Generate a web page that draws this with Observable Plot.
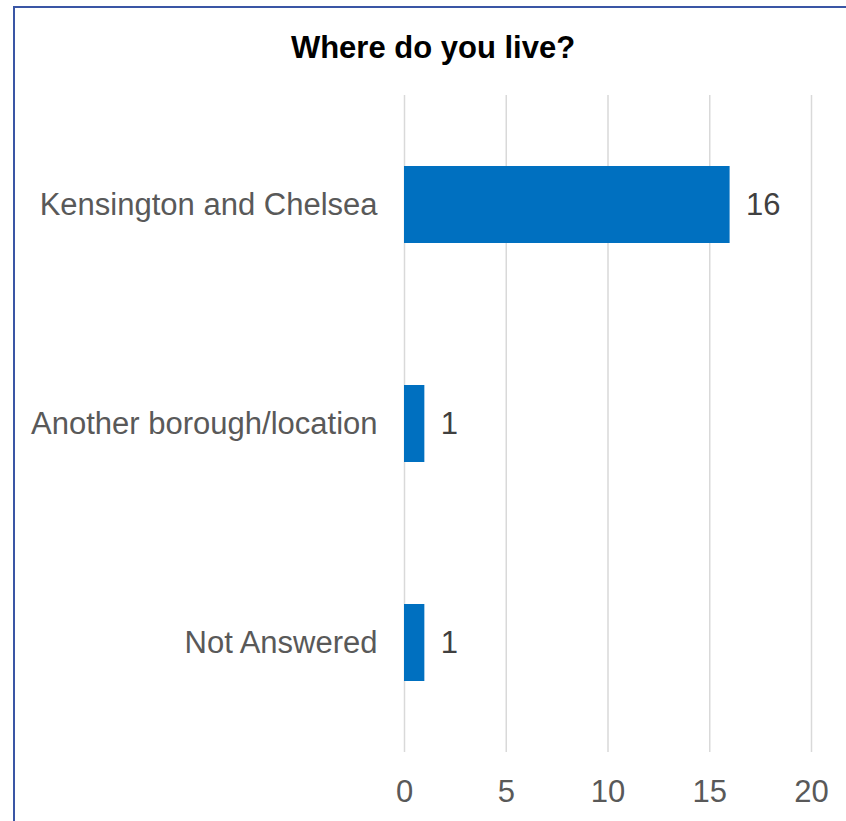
<!DOCTYPE html>
<html>
<head>
<meta charset="utf-8">
<script src="https://cdn.jsdelivr.net/npm/d3@7"></script>
<script src="https://cdn.jsdelivr.net/npm/@observablehq/plot@0.6"></script>
<style>
  html, body { margin: 0; padding: 0; background: #fff; }
  #frame { position: relative; width: 846px; height: 821px; overflow: hidden; font-family: Arial, "Liberation Sans", sans-serif; }
  #border { position: absolute; left: 13px; top: 6px; width: 900px; height: 900px; border-top: 2px solid #3A56A5; border-left: 2px solid #3A56A5; }
  #title { position: absolute; left: 0; top: 0; width: 866px; height: 95px; line-height: 95px; text-align: center; font-weight: bold; font-size: 31px; color: #000; }
  #chart { position: absolute; left: 0; top: 95px; }
</style>
</head>
<body>
<div id="frame">
  <div id="border"></div>
  <div id="title">Where do you live?</div>
  <div id="chart"></div>
</div>
<script>
const categories = ["Kensington and Chelsea", "Another borough/location", "Not Answered"];
const counts = [16, 1, 1];
const xTicks = [0, 5, 10, 15, 20];

const data = categories.map((c, i) => ({category: c, count: counts[i]}));

const chart = Plot.plot({
  width: 846,
  height: 726,
  marginLeft: 404,
  marginRight: 35,
  marginTop: 0,
  marginBottom: 69,
  style: {fontFamily: "Arial, 'Liberation Sans', sans-serif", fontSize: "31px", color: "#595959", background: "transparent"},
  x: {domain: [0, 20], ticks: xTicks, label: null},
  y: {domain: categories, paddingInner: 0.65, paddingOuter: 0.325, label: null},
  marks: [
    Plot.gridX(xTicks, {stroke: "#D9D9D9", strokeOpacity: 1, strokeWidth: 1.5}),
    Plot.barX(data, {x: "count", y: "category", fill: "#0070C0"}),
    Plot.text(data, {x: "count", y: "category", text: d => String(d.count), textAnchor: "start", dx: 16, fill: "#404040", fontSize: 31}),
    Plot.axisX(xTicks, {tickSize: 0, tickPadding: 27, fontSize: 31, fill: "#595959", label: null}),
    Plot.axisY(categories, {tickSize: 0, tickPadding: 27, fontSize: 31, fill: "#595959", label: null})
  ]
});
document.getElementById("chart").appendChild(chart);
</script>
</body>
</html>
